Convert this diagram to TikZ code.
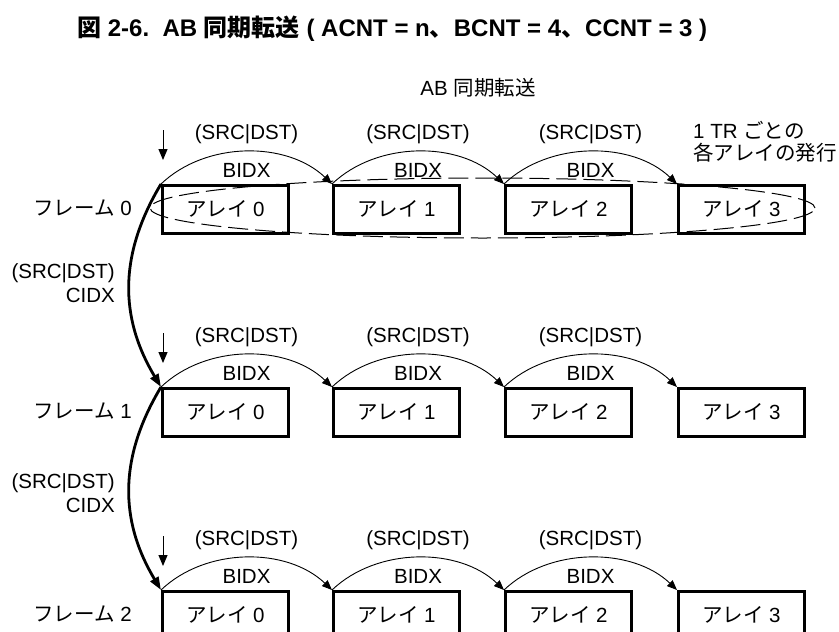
\documentclass[tikz,border=0pt]{standalone}
\usepackage{fontspec}
\setmainfont{Liberation Sans}
\newfontfamily\jpf{Noto Sans CJK JP}
\usetikzlibrary{arrows.meta,calc}
\newcommand{\J}[1]{{\jpf #1}}
\begin{document}
\begin{tikzpicture}[x=1pt,y=-1pt,
  txt/.style={font=\fontsize{20.5}{24}\selectfont, inner sep=0pt},
  arrbox/.style={txt, draw, line width=2.6pt, minimum width=126pt, minimum height=48pt, anchor=north west},
  bidx/.style={line width=0.9pt, -{Triangle[length=10pt,width=8pt]}},
  cidx/.style={line width=2.8pt, -{Triangle[length=13pt,width=9pt]}},
  down/.style={line width=1pt, -{Triangle[length=11pt,width=9pt]}},
  issue/.style={dash pattern=on 20pt off 7pt, line width=1pt}
]
\useasboundingbox (0,0) rectangle (839,632);
\clip (0,0) rectangle (839,632);

\node[txt, font=\fontsize{24}{28}\selectfont\bfseries, anchor=base west] (title) at (77,36)
  {\J{図} 2-6.\ \ AB \J{同期転送} ( ACNT = n\J{、}BCNT = 4\J{、}CCNT = 3 )};
\node[txt, anchor=base] (sub) at (478,95) {AB \J{同期転送}};

\foreach \r/\t in {0/184,1/387,2/590} {
  \foreach \c/\x in {0/161,1/332,2/504,3/677} {
    \node[arrbox] (b\r\c) at (\x,\t) {\J{アレイ} \c};
  }
  \node[txt, anchor=base east] (f\r) at (132,\t+31) {\J{フレーム} \r};
  \coordinate (d\r) at (163,\t-54);
  \coordinate (e\r) at (163,\t-24);
  \draw[down] (d\r) -- (e\r);
  \foreach \c/\n in {0/1,1/2,2/3} {
    \draw[bidx] (b\r\c.north west) .. controls +(45,-43) and +(-45,-43) .. (b\r\n.north west);
    \node[txt, anchor=base] (bl\r\c) at ($(b\r\c.north west)!0.5!(b\r\n.north west)+(0,-7)$) {BIDX};
    \node[txt, anchor=base] (sl\r\c) at ($(b\r\c.north west)!0.5!(b\r\n.north west)+(0,-45)$) {(SRC|DST)};
  }
}

\node[txt, anchor=base west] (tr1) at (693,138) {1 TR \J{ごとの}};
\node[txt, anchor=base west] (tr2) at (693,160) {\J{各アレイの発行}};

\draw[issue] (482.5,208) ellipse [x radius=332.5pt, y radius=30pt];

\draw[cidx] (b00.north west) .. controls +(-42,70) and +(-42,-70) .. (b10.north west);
\draw[cidx] (b10.north west) .. controls +(-42,70) and +(-42,-70) .. (b20.north west);

\node[txt, anchor=base east] (c0a) at (115,278) {(SRC|DST)};
\node[txt, anchor=base east] (c0b) at (115,302) {CIDX};
\node[txt, anchor=base east] (c1a) at (115,488) {(SRC|DST)};
\node[txt, anchor=base east] (c1b) at (115,512) {CIDX};
\end{tikzpicture}
\end{document}
